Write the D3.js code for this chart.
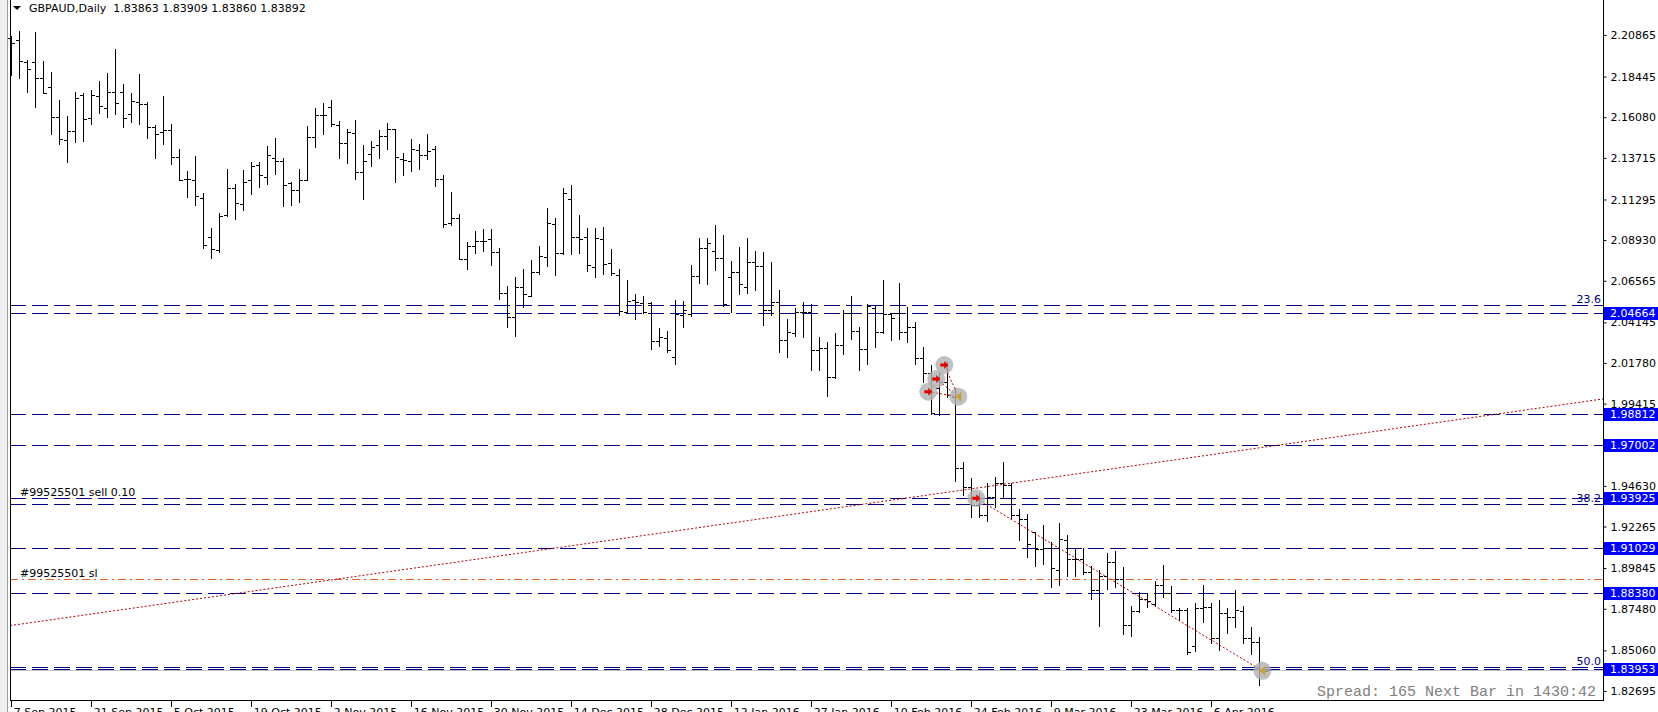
<!DOCTYPE html>
<html>
<head>
<meta charset="utf-8">
<script src="https://cdn.jsdelivr.net/npm/d3@7/dist/d3.min.js"></script>
<style>
  body { margin: 0; background: #fff; }
  svg { display: block; font-family: "DejaVu Sans", sans-serif; font-size: 11px; }
  .bar { stroke: #000; stroke-width: 1; fill: none; shape-rendering: crispEdges; }
  .hline { stroke: #000080; stroke-width: 1; stroke-dasharray: 16 6; shape-rendering: crispEdges; }
  .axis text { fill: #000; }
</style>
</head>
<body>
<svg id="chart" width="1658" height="712"></svg>
<script>
// header
const symbolName = "GBPAUD,Daily";
const lastQuote = ["1.83863", "1.83909", "1.83860", "1.83892"];

// daily bars, oldest first
const barOpen = [2.2067,2.2055,2.1931,2.1927,2.1836,2.1784,2.1609,2.1474,2.1526,2.1737,
  2.1602,2.1734,2.1662,2.1753,2.1753,2.1625,2.1699,2.1687,2.1549,2.1520,
  2.1532,2.1375,2.1247,2.1241,2.1138,2.0909,2.0835,2.1041,2.1194,2.1101,
  2.1241,2.1330,2.1260,2.1369,2.1351,2.1223,2.1185,2.1241,2.1495,2.1621,
  2.1667,2.1563,2.1456,2.1514,2.1287,2.1394,2.1446,2.1501,2.1541,2.1363,
  2.1355,2.1417,2.1386,2.1421,2.1247,2.0991,2.1020,2.0781,2.0859,2.0890,
  2.0897,2.0826,2.0583,2.0447,2.0618,2.0568,2.0709,2.0795,2.0987,2.0816,
  2.1130,2.0909,2.0909,2.0738,2.0898,2.0758,2.0690,2.0477,2.0545,2.0529,
  2.0525,2.0308,2.0322,2.0211,2.0457,2.0465,2.0682,2.0845,2.0830,2.0787,
  2.0676,2.0706,2.0622,2.0764,2.0744,2.0486,2.0535,2.0310,2.0350,2.0477,
  2.0477,2.0252,2.0263,2.0096,2.0283,2.0467,2.0364,2.0257,2.0496,2.0360,
  2.0461,2.0467,2.0360,2.0389,2.0209,2.0118,2.0030,2.0069,1.9982,1.9565,
  1.9458,1.9352,1.9294,1.9400,1.9478,1.9468,1.9294,1.9268,1.9193,1.9098,
  1.9102,1.8974,1.9148,1.9039,1.9035,1.8962,1.8857,1.8939,1.9022,1.8919,
  1.8652,1.8733,1.8807,1.8776,1.8884,1.8842,1.8741,1.8741,1.8531,1.8754,
  1.8760,1.8576,1.8725,1.8702,1.8735,1.8576,1.8557,1.83863];
const barHigh = [2.2083,2.2110,2.1941,2.2106,2.1935,2.1869,2.1708,2.1615,2.1757,2.1747,
  2.1767,2.1819,2.1864,2.2005,2.1799,2.1747,2.1858,2.1695,2.1563,2.1732,
  2.1569,2.1423,2.1295,2.1382,2.1165,2.0965,2.1049,2.1307,2.1219,2.1301,
  2.1349,2.1349,2.1441,2.1485,2.1369,2.1233,2.1307,2.1557,2.1660,2.1689,
  2.1708,2.1586,2.1538,2.1592,2.1446,2.1468,2.1534,2.1573,2.1541,2.1398,
  2.1479,2.1452,2.1510,2.1441,2.1274,2.1173,2.1043,2.0880,2.0946,2.0958,
  2.0958,2.0845,2.0626,2.0676,2.0725,2.0777,2.0859,2.1078,2.1020,2.1194,
  2.1214,2.1039,2.0962,2.0964,2.0969,2.0841,2.0723,2.0661,2.0579,2.0568,
  2.0533,2.0380,2.0364,2.0545,2.0539,2.0748,2.0907,2.0907,2.0981,2.0923,
  2.0771,2.0855,2.0903,2.0830,2.0822,2.0768,2.0601,2.0434,2.0500,2.0531,
  2.0519,2.0329,2.0302,2.0354,2.0484,2.0568,2.0385,2.0519,2.0515,2.0661,
  2.0470,2.0641,2.0506,2.0415,2.0273,2.0166,2.0118,2.0186,2.0030,1.9604,
  1.9507,1.9420,1.9478,1.9517,1.9600,1.9478,1.9326,1.9297,1.9197,1.9235,
  1.9138,1.9249,1.9177,1.9102,1.9102,1.8997,1.8974,1.9071,1.9086,1.8989,
  1.8764,1.8847,1.8842,1.8907,1.9003,1.8880,1.8754,1.8750,1.8779,1.8886,
  1.8779,1.8799,1.8754,1.8857,1.8764,1.8644,1.8586,1.83909];
const barLow = [2.1854,2.1838,2.1757,2.1669,2.1747,2.1512,2.1450,2.1350,2.1462,2.1472,
  2.1567,2.1631,2.1611,2.1629,2.1553,2.1582,2.1567,2.1489,2.1373,2.1454,
  2.1338,2.1241,2.1146,2.1097,2.0849,2.0787,2.0826,2.1035,2.1018,2.1070,
  2.1163,2.1204,2.1221,2.1280,2.1094,2.1097,2.1117,2.1241,2.1433,2.1508,
  2.1557,2.1373,2.1340,2.1249,2.1130,2.1326,2.1373,2.1425,2.1233,2.1274,
  2.1297,2.1309,2.1365,2.1210,2.0967,2.0983,2.0781,2.0727,2.0818,2.0832,
  2.0750,2.0552,2.0389,2.0337,2.0502,2.0566,2.0694,2.0745,2.0692,2.0812,
  2.0812,2.0820,2.0715,2.0680,2.0696,2.0690,2.0457,2.0467,2.0436,2.0467,
  2.0258,2.0277,2.0242,2.0172,2.0389,2.0453,2.0645,2.0638,2.0719,2.0512,
  2.0473,2.0581,2.0585,2.0603,2.0399,2.0457,2.0244,2.0215,2.0337,2.0331,
  2.0137,2.0135,1.9988,2.0092,2.0232,2.0318,2.0137,2.0174,2.0273,2.0350,
  2.0312,2.0316,2.0298,2.0170,2.0069,1.9879,1.9875,1.9982,1.9493,1.9410,
  1.9284,1.9284,1.9259,1.9340,1.9390,1.9268,1.9148,1.9051,1.8997,1.9006,
  1.8877,1.8886,1.8939,1.8941,1.8950,1.8803,1.8650,1.8865,1.8873,1.8603,
  1.8588,1.8727,1.8760,1.8764,1.8814,1.8731,1.8683,1.8485,1.8504,1.8673,
  1.8551,1.8508,1.8609,1.8644,1.8551,1.8485,1.8304,1.83860];
const barClose = [2.2038,2.1935,2.1889,2.1836,2.1747,2.1609,2.1479,2.1526,2.1722,2.1596,
  2.1737,2.1671,2.1753,2.1689,2.1602,2.1704,2.1683,2.1549,2.1510,2.1532,
  2.1375,2.1243,2.1247,2.1150,2.0863,2.0839,2.1035,2.1194,2.1107,2.1233,
  2.1326,2.1270,2.1388,2.1351,2.1212,2.1185,2.1241,2.1495,2.1621,2.1621,
  2.1567,2.1456,2.1520,2.1287,2.1355,2.1437,2.1501,2.1538,2.1375,2.1359,
  2.1421,2.1386,2.1413,2.1247,2.0985,2.1020,2.0785,2.0859,2.0886,2.0886,
  2.0826,2.0583,2.0444,2.0622,2.0579,2.0706,2.0799,2.0991,2.0816,2.1165,
  2.0909,2.0898,2.0748,2.0903,2.0754,2.0700,2.0483,2.0539,2.0535,2.0477,
  2.0308,2.0327,2.0254,2.0463,2.0486,2.0682,2.0845,2.0874,2.0787,2.0519,
  2.0706,2.0636,2.0764,2.0744,2.0486,2.0535,2.0310,2.0356,2.0477,2.0477,
  2.0252,2.0263,2.0096,2.0283,2.0467,2.0364,2.0257,2.0512,2.0360,2.0461,
  2.0441,2.0360,2.0389,2.0209,2.0118,1.9889,2.0069,1.9992,1.9565,1.9458,
  1.9352,1.9294,1.9400,1.9478,1.9468,1.9294,1.9268,1.9125,1.9094,1.9102,
  1.8983,1.9152,1.9039,1.9035,1.8962,1.8857,1.8939,1.9022,1.8919,1.8652,
  1.8733,1.8807,1.8795,1.8884,1.8842,1.8741,1.8741,1.8498,1.8754,1.8760,
  1.8576,1.8725,1.8702,1.8741,1.8576,1.8557,1.83863,1.83892];

// price scale labels (terminal rounding)
const priceTicks = [2.20865,2.18445,2.16080,2.13715,2.11295,2.08930,2.06565,2.04145,
  2.01780,1.99415,1.97050,1.94630,1.92265,1.89845,1.87480,1.85060,1.82695];

// time scale labels, one every ten bars
const dateTickBars = [0,10,20,30,40,50,60,70,80,90,100,110,120,130,140,150];
const dateLabels = ["7 Sep 2015","21 Sep 2015","5 Oct 2015","19 Oct 2015","2 Nov 2015",
  "16 Nov 2015","30 Nov 2015","14 Dec 2015","28 Dec 2015","12 Jan 2016","27 Jan 2016",
  "10 Feb 2016","24 Feb 2016","9 Mar 2016","23 Mar 2016","6 Apr 2016"];

// horizontal lines with price tags
const levelPrices = [2.04664, 1.98812, 1.97002, 1.93925, 1.91029, 1.88380, 1.83953];
// fibonacci levels
const fibNames = ["23.6", "38.2", "50.0"];
const fibPrices = [2.0515, 1.9357, 1.8407];
// order lines
const orderPrice = 1.93925, orderText = "#99525501 sell 0.10";
const stopPrice = 1.8921, stopText = "#99525501 sl";
const bidPrice = 1.83892;
// trend line end points (bar index, price)
const trendBars = [-0.16, 199];
const trendPrices = [1.8650, 1.9969];
// trades: entry bars/prices and close bar/price
const tradeEntryBars = [115, 116, 117, 121];
const tradeEntryPrices = [2.0011, 2.0085, 2.0166, 1.9391];
const tradeCloseBars = [118, 118, 118, 156];
const tradeClosePrices = [1.9982, 1.9982, 1.9982, 1.8387];

const spreadText = "Spread: 165 Next Bar in 1430:42";

const W = 1658, H = 712;
const plotLeft = 10, plotRight = 1603, plotBottom = 700;

const x = d3.scaleLinear().domain([0, 199]).range([11.3, 1603.3]);
const y = d3.scaleLinear().domain([1.82695, 2.20865]).range([691, 35]);
const px = (v) => Math.round(x(v)) + 0.5;
const py = (v) => Math.round(y(v)) + 0.5;

const svg = d3.select("#chart");
svg.append("rect").attr("width", W).attr("height", H).attr("fill", "#fff");

// left window edge
svg.append("rect").attr("x", 0).attr("y", 0).attr("width", 7).attr("height", H).attr("fill", "#f0f0f0");
svg.append("line").attr("x1", 7.5).attr("x2", 7.5).attr("y1", 0).attr("y2", H).attr("stroke", "#a0a0a0");

const plot = svg.append("g");

// bid line
plot.append("line")
  .attr("x1", plotLeft).attr("x2", plotRight)
  .attr("y1", py(bidPrice)).attr("y2", py(bidPrice))
  .attr("stroke", "#c0c0c0").attr("shape-rendering", "crispEdges");

// level lines
plot.selectAll("line.level").data(levelPrices).join("line")
  .attr("class", "hline level")
  .attr("x1", plotLeft).attr("x2", plotRight)
  .attr("y1", (d) => py(d)).attr("y2", (d) => py(d));

plot.selectAll("line.fib").data(fibPrices).join("line")
  .attr("class", "hline fib")
  .attr("x1", plotLeft).attr("x2", plotRight)
  .attr("y1", (d) => py(d)).attr("y2", (d) => py(d));

plot.selectAll("text.fib").data(fibNames).join("text")
  .attr("class", "fib")
  .attr("x", plotRight - 2).attr("y", (d, i) => py(fibPrices[i]) - 3)
  .attr("text-anchor", "end").attr("fill", "#000080")
  .text((d) => d);

// stop loss line
plot.append("line")
  .attr("x1", plotLeft).attr("x2", plotRight)
  .attr("y1", py(stopPrice)).attr("y2", py(stopPrice))
  .attr("stroke", "#e06020").attr("stroke-dasharray", "8 4 2 4")
  .attr("shape-rendering", "crispEdges");

plot.append("text").attr("x", 20).attr("y", py(orderPrice) - 3).text(orderText);
plot.append("text").attr("x", 20).attr("y", py(stopPrice) - 3).text(stopText);

// trend line
plot.append("line")
  .attr("x1", x(trendBars[0])).attr("y1", y(trendPrices[0]))
  .attr("x2", x(trendBars[1])).attr("y2", y(trendPrices[1]))
  .attr("stroke", "#b00000").attr("stroke-dasharray", "2 2");

// bars
const bars = d3.range(barOpen.length);
plot.selectAll("path.bar").data(bars).join("path")
  .attr("class", "bar")
  .attr("d", (i) => {
    const bx = px(i);
    return `M${bx},${py(barHigh[i]) - 0.5}V${py(barLow[i]) + 0.5}` +
      `M${bx - 3.5},${py(barOpen[i])}H${bx}` +
      `M${bx},${py(barClose[i])}H${bx + 3.5}`;
  });

// trades
const trades = d3.range(tradeEntryBars.length).map((i) => ({
  x1: x(tradeEntryBars[i]) - 3, y1: y(tradeEntryPrices[i]),
  x2: x(tradeCloseBars[i]) + 3, y2: y(tradeClosePrices[i]),
}));
const tg = plot.append("g");
tg.selectAll("line").data(trades).join("line")
  .attr("x1", (d) => d.x1).attr("y1", (d) => d.y1)
  .attr("x2", (d) => d.x2).attr("y2", (d) => d.y2)
  .attr("stroke", "#c00000").attr("stroke-dasharray", "2 2");
const closes = [...new Set(tradeCloseBars.map((b, i) => b + ":" + tradeClosePrices[i]))]
  .map((s) => s.split(":").map(Number));
tg.selectAll("circle.entry").data(trades).join("circle")
  .attr("class", "entry")
  .attr("cx", (d) => d.x1).attr("cy", (d) => d.y1).attr("r", 9)
  .attr("fill", "#b0b0b0").attr("fill-opacity", 0.8);
tg.selectAll("circle.exit").data(closes).join("circle")
  .attr("class", "exit")
  .attr("cx", (d) => x(d[0]) + 3).attr("cy", (d) => y(d[1])).attr("r", 9)
  .attr("fill", "#b0b0b0").attr("fill-opacity", 0.8);
tg.selectAll("path.arrow").data(trades).join("path")
  .attr("class", "arrow")
  .attr("transform", (d) => `translate(${d.x1},${d.y1})`)
  .attr("d", "M-4,-1.5H0V-4L4,0L0,4V1.5H-4Z")
  .attr("fill", "#e00000");
tg.selectAll("path.exitmark").data(closes).join("path")
  .attr("class", "exitmark")
  .attr("transform", (d) => `translate(${x(d[0]) + 3},${y(d[1])})`)
  .attr("d", "M3,-5L-3,0L3,5Z")
  .attr("fill", "#c8a040");

// price axis
svg.append("line")
  .attr("x1", plotRight + 0.5).attr("x2", plotRight + 0.5)
  .attr("y1", 0).attr("y2", plotBottom)
  .attr("stroke", "#000").attr("shape-rendering", "crispEdges");

const yAxis = svg.append("g").attr("class", "axis")
  .attr("transform", `translate(${plotRight + 0.5},0)`)
  .call(d3.axisRight(y).tickValues(priceTicks).tickSize(3).tickPadding(4)
    .tickFormat(d3.format(".5f")));
yAxis.select(".domain").remove();
yAxis.selectAll("text").attr("font-size", 11).attr("font-family", "DejaVu Sans");

// price tags for level lines
const tags = svg.append("g").selectAll("g").data(levelPrices).join("g")
  .attr("transform", (d) => `translate(${plotRight + 1},${py(d)})`);
tags.append("rect").attr("x", 0).attr("y", -6.5).attr("width", 54).attr("height", 13)
  .attr("fill", "#0000ff");
tags.append("text").attr("x", 6).attr("dy", "0.36em").attr("fill", "#fff")
  .text((d) => d3.format(".5f")(d));

// time axis
svg.append("line")
  .attr("x1", plotLeft).attr("x2", plotRight + 1)
  .attr("y1", plotBottom + 0.5).attr("y2", plotBottom + 0.5)
  .attr("stroke", "#000").attr("shape-rendering", "crispEdges");
svg.append("line")
  .attr("x1", plotLeft + 0.5).attr("x2", plotLeft + 0.5)
  .attr("y1", 0).attr("y2", plotBottom)
  .attr("stroke", "#000").attr("shape-rendering", "crispEdges");

const xAxis = svg.append("g").attr("class", "axis")
  .attr("transform", `translate(0,${plotBottom + 0.5})`)
  .call(d3.axisBottom(x).tickValues(dateTickBars).tickSize(6).tickPadding(2)
    .tickFormat((d, i) => dateLabels[i]));
xAxis.select(".domain").remove();
xAxis.selectAll(".tick line").attr("transform", "translate(-0.3,0)").attr("shape-rendering", "crispEdges");
xAxis.selectAll("text").attr("text-anchor", "start").attr("x", 2)
  .attr("font-size", 11).attr("font-family", "DejaVu Sans");

// spread info
svg.append("text")
  .attr("x", 1596).attr("y", 696).attr("text-anchor", "end")
  .attr("font-family", "Liberation Mono, monospace").attr("font-size", 15)
  .attr("fill", "#808080").text(spreadText);

// header
const header = svg.append("g").attr("transform", "translate(13,12)");
header.append("path").attr("d", "M0,-6H8L4,-2Z").attr("fill", "#000");
header.append("text").attr("x", 16).attr("font-size", 11)
  .text(`${symbolName}  ${lastQuote.join(" ")}`).attr("xml:space", "preserve");
</script>
</body>
</html>
